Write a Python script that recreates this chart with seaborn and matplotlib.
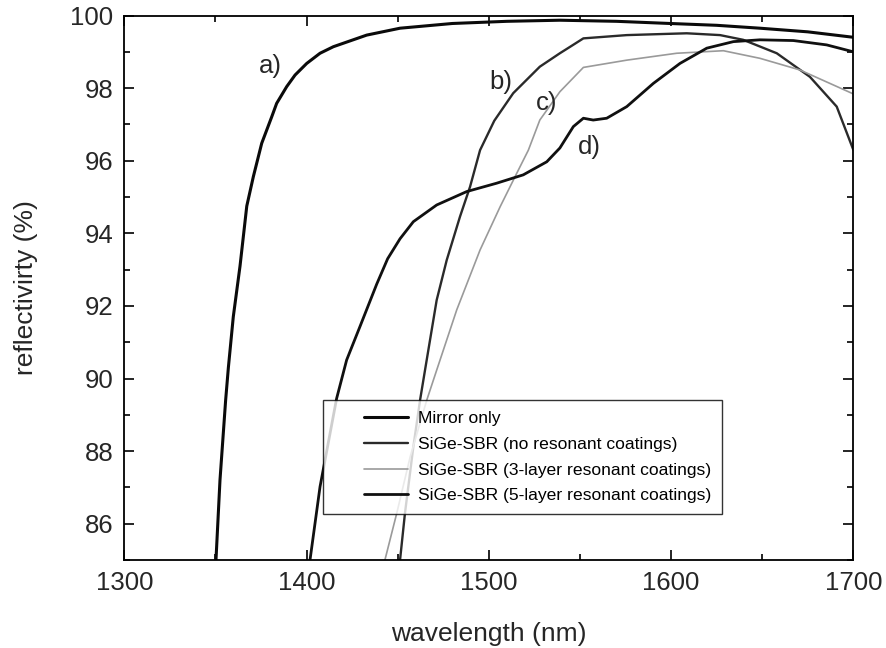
import matplotlib
matplotlib.use("Agg")
import matplotlib.pyplot as plt
from matplotlib.ticker import MultipleLocator
from matplotlib.legend_handler import HandlerLine2D
import numpy as np
import seaborn as sns
import pandas as pd

# ---- data ----
mirror_wl = [1350.3, 1352.5, 1355.6, 1357.1, 1359.8, 1363.5, 1367.2, 1370.8, 1375.4, 1380.9, 1383.6,
             1389.1, 1393.7, 1400.1, 1407.4, 1414.7, 1433, 1451.3, 1480, 1510, 1539, 1570, 1599.5,
             1625, 1648.8, 1675, 1700]
mirror_r = [85.0, 87.2, 89.4, 90.3, 91.7, 93.1, 94.75, 95.56, 96.48, 97.21, 97.58,
            98.04, 98.36, 98.68, 98.96, 99.14, 99.46, 99.65, 99.78, 99.84, 99.87, 99.84, 99.78,
            99.73, 99.65, 99.55, 99.4]

nores_wl = [1451.3, 1454, 1458.6, 1462.3, 1465, 1471.4, 1476.9, 1484.2, 1489.7, 1495.2, 1503, 1513.4,
            1528, 1539, 1545, 1551.9, 1575.7, 1608.6, 1626.9, 1639.6, 1658, 1676.2, 1690.9, 1700]
nores_r = [85.0, 86.29, 88.12, 89.41, 90.23, 92.16, 93.26, 94.46, 95.28, 96.29, 97.1, 97.86,
           98.59, 98.96, 99.15, 99.37, 99.46, 99.51, 99.46, 99.33, 98.96, 98.31, 97.49, 96.3]

three_wl = [1443, 1449.5, 1456.9, 1466, 1471.4, 1482.4, 1495.2, 1506.2, 1515.3, 1521.7, 1528, 1539,
            1551.9, 1575.7, 1603.1, 1628.7, 1648.8, 1670.7, 1700]
three_r = [85.0, 86.29, 87.85, 89.41, 90.23, 91.89, 93.54, 94.73, 95.65, 96.29, 97.12, 97.9,
           98.57, 98.77, 98.96, 99.03, 98.82, 98.5, 97.84]

five_wl = [1401.9, 1407.4, 1416.5, 1422, 1429.3, 1438.5, 1444.5, 1451.3, 1458.6, 1471.4, 1487.9, 1504.3,
           1518.9, 1531.8, 1539, 1546.4, 1551.9, 1557.3, 1564.7, 1575.7, 1590.3, 1604.9, 1619.6,
           1634.2, 1648.8, 1667.1, 1685.4, 1700]
five_r = [85.0, 87.02, 89.45, 90.51, 91.43, 92.6, 93.3, 93.85, 94.32, 94.78, 95.15, 95.38,
          95.61, 95.97, 96.35, 96.94, 97.17, 97.12, 97.17, 97.49, 98.13, 98.68, 99.1,
          99.28, 99.33, 99.31, 99.19, 99.0]

series_names = ["Mirror only",
                "SiGe-SBR (no resonant coatings)",
                "SiGe-SBR (3-layer resonant coatings)",
                "SiGe-SBR (5-layer resonant coatings)"]
curve_labels = ["a)", "b)", "c)", "d)"]
curve_label_wl = [1380, 1506.7, 1531.8, 1555]
curve_label_r = [98.61, 98.17, 97.59, 96.38]
xticks = [1300, 1400, 1500, 1600, 1700]
yticks = [86, 88, 90, 92, 94, 96, 98, 100]

sns.set_theme(style="ticks")
plt.rcParams['font.family'] = ['Liberation Sans', 'DejaVu Sans']

fig = plt.figure(figsize=(8.87, 6.48), dpi=100)
ax = fig.add_axes([124.3 / 887, 1 - 560 / 648, (853.3 - 124.3) / 887, (560 - 15.5) / 648])

data = [(mirror_wl, mirror_r), (nores_wl, nores_r), (three_wl, three_r), (five_wl, five_r)]
colors = ["#0a0a0a", "#2a2a2a", "#9a9a9a", "#101010"]
widths = [2.2, 1.7, 1.2, 2.0]
for (wl, r), name, c, lw in zip(data, series_names, colors, widths):
    df = pd.DataFrame({"wavelength": wl, "reflectivity": r})
    sns.lineplot(data=df, x="wavelength", y="reflectivity", ax=ax, color=c,
                 linewidth=lw, label=name, sort=False, estimator=None)

ax.set_xlim(1300, 1700)
ax.set_ylim(85, 100)
ax.set_xticks(xticks)
ax.set_yticks(yticks)
ax.xaxis.set_minor_locator(MultipleLocator(50))
ax.yaxis.set_minor_locator(MultipleLocator(1))
ax.tick_params(which="both", direction="in", top=True, right=True, labelsize=18.5,
               width=1.2, color="black", pad=8)
ax.tick_params(which="major", length=7)
ax.tick_params(which="minor", length=4)
for s in ax.spines.values():
    s.set_linewidth(1.3)
    s.set_color("black")
ax.set_xlabel("wavelength (nm)", fontsize=19, labelpad=19)
ax.set_ylabel("reflectivirty (%)", fontsize=19, labelpad=23)

for x, y, t in zip(curve_label_wl, curve_label_r, curve_labels):
    ax.text(x, y, t, fontsize=18.5, ha="center", va="center")


class RightHandler(HandlerLine2D):
    def get_xdata(self, legend, xdescent, ydescent, width, height, fontsize):
        xd = np.array([-xdescent + 0.4 * width, -xdescent + width])
        return xd, xd


handles, labels = ax.get_legend_handles_labels()
leg = ax.legend(handles, labels, loc="upper left", bbox_to_anchor=(0.273, 0.293), fontsize=12.6,
                frameon=True, fancybox=False, edgecolor="black", handlelength=4.26,
                borderpad=0.6, labelspacing=0.6, handletextpad=0.55, borderaxespad=0,
                handler_map={h: RightHandler() for h in handles})
leg.get_frame().set_linewidth(1.0)
for t in leg.get_texts():
    t.set_color("black")

fig.savefig("out.png", dpi=100)
